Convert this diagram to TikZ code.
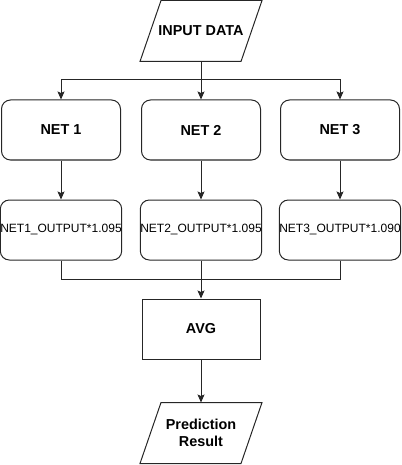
\documentclass[tikz,border=0pt]{standalone}
\usepackage{fontspec}
\setmainfont{Liberation Sans}
\usetikzlibrary{arrows.meta,positioning}

\begin{document}
\begin{tikzpicture}[
  x=1pt, y=1pt,
  line width=1pt,
  netbox/.style={draw=black!85, rounded corners=9pt, minimum width=119pt,
                 minimum height=60pt, inner sep=0pt,
                 font=\fontsize{14.4}{16}\selectfont\bfseries},
  outbox/.style={netbox, font=\fontsize{12}{14}\selectfont},
  avgbox/.style={draw=black!85, minimum width=118pt, minimum height=60pt,
                 inner sep=0pt, font=\fontsize{14.4}{16}\selectfont\bfseries},
  io/.style={minimum width=100pt, minimum height=60pt, inner sep=0pt,
             align=center, font=\fontsize{14.4}{17}\selectfont\bfseries},
  ioframe/.style={draw=black!85, line join=miter},
  arr/.style={-{Stealth[length=8pt,width=7pt,inset=1.5pt]}, draw=black!85},
  lin/.style={draw=black!85},
]
\useasboundingbox (0,0) rectangle (401,-465);

% ---- input ----
\node[io] (in) at (201,-31) {INPUT DATA};
\draw[ioframe] ([xshift=-10.5pt]in.south west) -- ([xshift=10.5pt]in.north west)
  -- ([xshift=10.5pt]in.north east) -- ([xshift=-10.5pt]in.south east) -- cycle;
\coordinate (fork) at (201,-80);

% ---- networks ----
\node[netbox] (n1) at (61,-130)  {NET 1};
\node[netbox] (n2) at (201,-130) {NET 2};
\node[netbox] (n3) at (340,-130) {NET 3};

% ---- weighted outputs ----
\node[outbox] (o1) at (61,-230)  {NET1\_OUTPUT*1.095};
\node[outbox] (o2) at (201,-230) {NET2\_OUTPUT*1.095};
\node[outbox] (o3) at (340,-230) {NET3\_OUTPUT*1.090};
\coordinate (join) at (201,-279);

% ---- average and result ----
\node[avgbox] (avg) at (201,-329) {AVG};
\node[io] (res) at (201,-433) {Prediction\\Result};
\draw[ioframe] ([xshift=-10.5pt]res.south west) -- ([xshift=10.5pt]res.north west)
  -- ([xshift=10.5pt]res.north east) -- ([xshift=-10.5pt]res.south east) -- cycle;

% ---- edges ----
\draw[lin] (in.south) -- (fork);
\draw[arr] (fork) -| (n1.north);
\draw[arr] (fork) -- (n2.north);
\draw[arr] (fork) -| (n3.north);
\draw[arr] (n1) -- (o1);
\draw[arr] (n2) -- (o2);
\draw[arr] (n3) -- (o3);
\draw[lin] (o1.south) |- (join);
\draw[lin] (o3.south) |- (join);
\draw[arr] (o2.south) -- (avg.north);
\draw[arr] (avg) -- (res);
\end{tikzpicture}
\end{document}
